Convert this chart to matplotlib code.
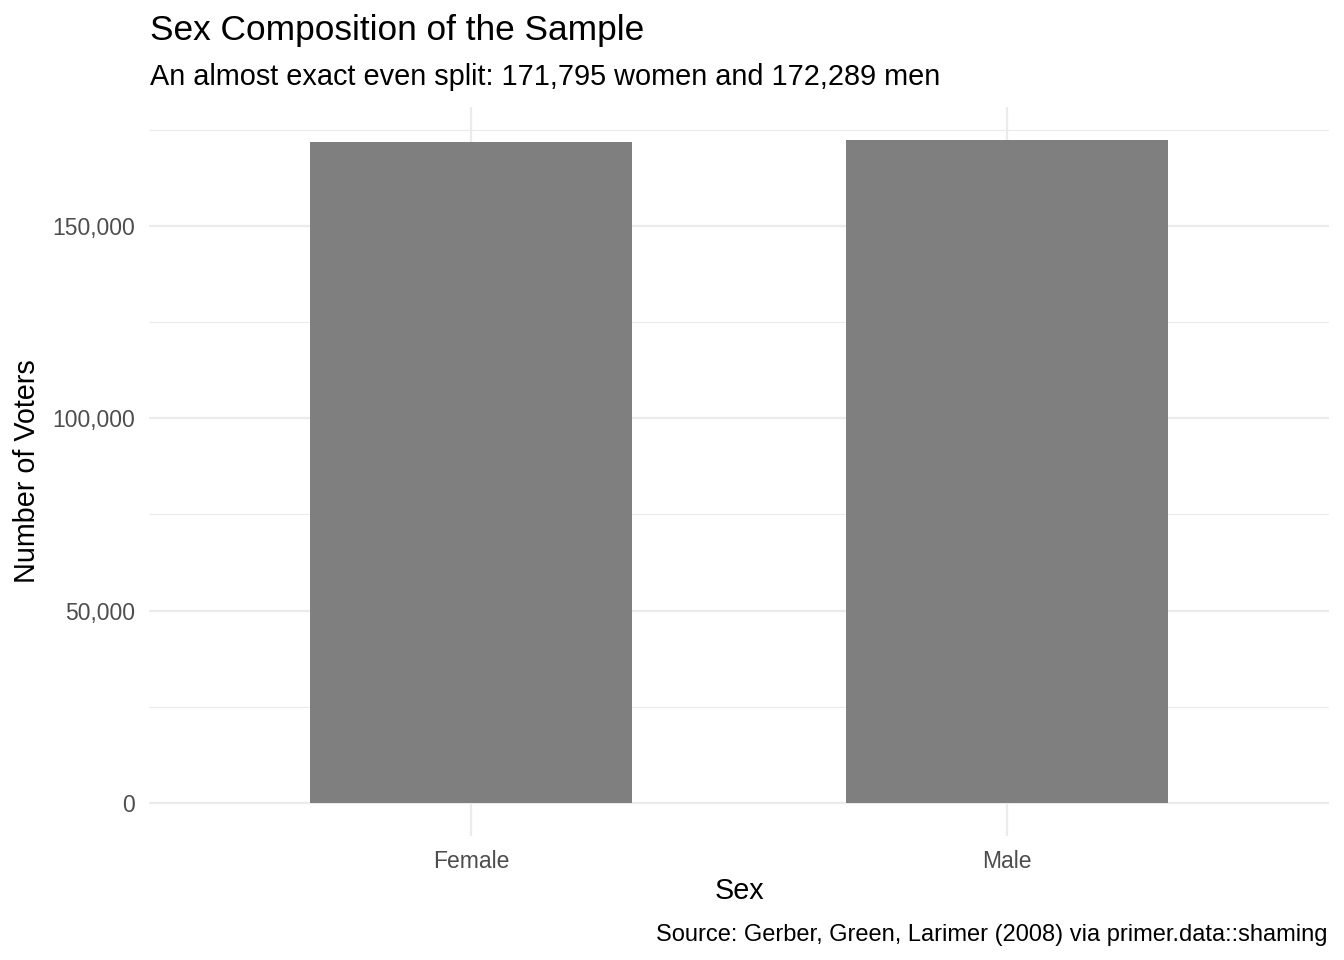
import numpy as np
import matplotlib.pyplot as plt
from matplotlib.ticker import FuncFormatter, MultipleLocator

# Data
sexes = ['Female', 'Male']
counts = [171795, 172289]

W, H = 1344, 960
plt.rcParams['font.family'] = ['Liberation Sans', 'DejaVu Sans']

fig = plt.figure(figsize=(W / 100, H / 100), dpi=100)
fig.patch.set_facecolor('white')

# Panel in pixel coordinates (from ggplot layout)
left, right, top, bottom = 149.4, 1328.6, 107, 836
ax = fig.add_axes([left / W, 1 - bottom / H, (right - left) / W, (bottom - top) / H])

x = np.arange(1, len(sexes) + 1)
ax.bar(x, counts, width=0.6, color='#7F7F7F', zorder=2)

ymax = max(counts)
ax.set_xlim(0.4, len(sexes) + 0.6)
ax.set_ylim(-0.05 * ymax, 1.05 * ymax)

ax.set_xticks(x)
ax.set_xticklabels(sexes)
ax.yaxis.set_major_locator(MultipleLocator(50000))
ax.yaxis.set_minor_locator(MultipleLocator(25000))
ax.yaxis.set_major_formatter(FuncFormatter(lambda v, p: f'{int(v):,}'))

ax.grid(which='major', color='#EBEBEB', linewidth=1.6, zorder=0)
ax.grid(which='minor', axis='y', color='#EBEBEB', linewidth=0.8, zorder=0)
ax.set_axisbelow(True)
for s in ax.spines.values():
    s.set_visible(False)
ax.tick_params(which='both', length=0, labelsize=16.5, labelcolor='#4D4D4D')
ax.tick_params(axis='y', pad=10.5)
ax.tick_params(axis='x', pad=10)

# Titles and labels
fig.text(150 / W, 1 - 40 / H, 'Sex Composition of the Sample', fontsize=25.4,
         ha='left', va='baseline')
fig.text(150 / W, 1 - 85 / H, 'An almost exact even split: 171,795 women and 172,289 men',
         fontsize=20.75, ha='left', va='baseline')
fig.text((left + right) / 2 / W, 1 - 891 / H, 'Sex', fontsize=20.7, ha='center', va='center')
fig.text(27 / W, 1 - (top + bottom) / 2 / H, 'Number of Voters', fontsize=20.7,
         rotation=90, ha='center', va='center')
fig.text(1328 / W, 1 - 941 / H, 'Source: Gerber, Green, Larimer (2008) via primer.data::shaming',
         fontsize=17.0, ha='right', va='baseline')

fig.savefig('out.png', dpi=100)
